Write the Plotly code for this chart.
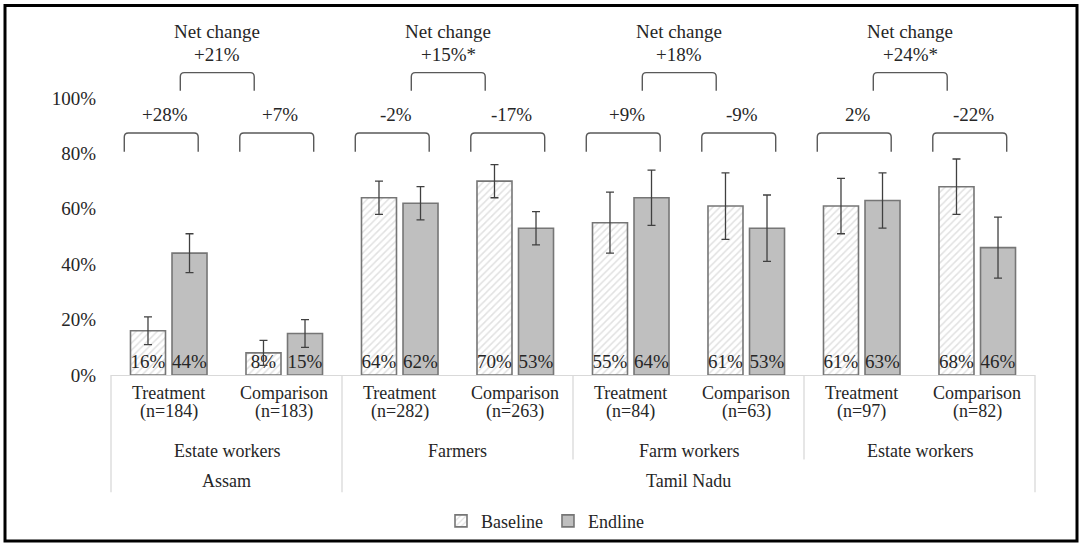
import plotly.graph_objects as go

# ---- data -------------------------------------------------------------
regions = ["Assam", "Tamil Nadu"]
region_span = [(0, 1), (2, 7)]
groups = ["Estate workers", "Farmers", "Farm workers", "Estate workers"]
arms = ["Treatment", "Comparison", "Treatment", "Comparison",
        "Treatment", "Comparison", "Treatment", "Comparison"]
sizes = ["(n=184)", "(n=183)", "(n=282)", "(n=263)",
         "(n=84)", "(n=63)", "(n=97)", "(n=82)"]

baseline = [16, 8, 64, 70, 55, 61, 61, 68]
endline = [44, 15, 62, 53, 64, 53, 63, 46]
baseline_ci = [5, 4.5, 6, 6, 11, 12, 10, 10]
endline_ci = [7, 5, 6, 6, 10, 12, 10, 11]

arm_change = ["+28%", "+7%", "-2%", "-17%", "+9%", "-9%", "2%", "-22%"]
net_change = ["+21%", "+15%*", "+18%", "+24%*"]

y_ticks = [0, 20, 40, 60, 80, 100]
y_tick_text = ["0%", "20%", "40%", "60%", "80%", "100%"]

# ---- layout constants -------------------------------------------------
W, H = 1082, 549
ML, MR, MT, MB = 111, 47, 10, 172
PW, PH = W - ML - MR, H - MT - MB
FONT = "Liberation Serif"
TXT = "#262626"
GRID = "#d9d9d9"
BRACKET = "#595959"
BIG, SMALL = 19, 18


def paper_x(px):
    return (px - ML) / PW


def paper_y(py):
    return (H - MB - py) / PH


def font(size=BIG):
    return dict(family=FONT, size=size, color=TXT)


x = list(range(len(arms)))

fig = go.Figure()
fig.add_trace(go.Bar(
    name="Baseline", x=x, y=baseline,
    marker=dict(color="white", line=dict(color="#767676", width=1.6),
                pattern=dict(shape="/", fgcolor="#c4c4c4", bgcolor="white",
                             size=5, solidity=0.3)),
    error_y=dict(type="data", array=baseline_ci, color="#404040",
                 thickness=1.3, width=4),
    text=[f"{v}%" for v in baseline], textposition="inside",
    insidetextanchor="start", constraintext="none", textangle=0,
    textfont=font(),
))
fig.add_trace(go.Bar(
    name="Endline", x=x, y=endline,
    marker=dict(color="#bfbfbf", line=dict(color="#767676", width=1.6)),
    error_y=dict(type="data", array=endline_ci, color="#404040",
                 thickness=1.3, width=4),
    text=[f"{v}%" for v in endline], textposition="inside",
    insidetextanchor="start", constraintext="none", textangle=0,
    textfont=font(),
))

shapes = []
annotations = []


def bracket(x0, x1, y_leg, y_top, rx=0.035, ry=1.5):
    path = (f"M {x0},{y_leg} L {x0},{y_top - ry} Q {x0},{y_top} {x0 + rx},{y_top} "
            f"L {x1 - rx},{y_top} Q {x1},{y_top} {x1},{y_top - ry} L {x1},{y_leg}")
    return dict(type="path", xref="x", yref="y", path=path,
                line=dict(color=BRACKET, width=1.4))


# change within each arm
for i, lab in enumerate(arm_change):
    x0, x1 = i - 0.385, i + 0.255
    shapes.append(bracket(x0, x1, 80.6, 87.4))
    annotations.append(dict(x=(x0 + x1) / 2 + 0.03, y=93.9, xref="x", yref="y",
                            text=lab, showarrow=False, font=font()))

# net change per population group
for g, lab in enumerate(net_change):
    c = 2 * g + 0.5 - 0.08
    shapes.append(bracket(c - 0.32, c + 0.32, 102.6, 109.2))
    annotations.append(dict(x=c, y=124.0, xref="x", yref="y",
                            text="Net change", showarrow=False, font=font()))
    annotations.append(dict(x=c, y=115.6, xref="x", yref="y",
                            text=lab, showarrow=False, font=font()))

# three-level category axis labels
for i in x:
    annotations.append(dict(x=i, y=0, xref="x", yref="paper", yshift=-17.5,
                            yanchor="middle", text=arms[i], showarrow=False,
                            font=font(SMALL)))
    annotations.append(dict(x=i, y=0, xref="x", yref="paper", yshift=-36.5,
                            yanchor="middle", text=sizes[i], showarrow=False,
                            font=font(SMALL)))
for g, lab in enumerate(groups):
    annotations.append(dict(x=2 * g + 0.5, y=0, xref="x", yref="paper",
                            yshift=-75.5, yanchor="middle", text=lab,
                            showarrow=False, font=font(SMALL)))
for lab, (a, b) in zip(regions, region_span):
    annotations.append(dict(x=(a + b) / 2, y=0, xref="x", yref="paper",
                            yshift=-105.5, yanchor="middle", text=lab,
                            showarrow=False, font=font(SMALL)))

# separators between category groups
full_y = paper_y(495)
mid_y = paper_y(462)
for xr, xv, yb in [("paper", 0, full_y), ("x", 1.5, full_y), ("x", 3.5, mid_y),
                   ("x", 5.5, mid_y), ("paper", 1, full_y)]:
    shapes.append(dict(type="line", xref=xr, yref="paper", x0=xv, x1=xv,
                       y0=0, y1=yb, line=dict(color=GRID, width=1.3)))

# outer frame
shapes.append(dict(type="rect", xref="paper", yref="paper",
                   x0=paper_x(5), x1=paper_x(1077), y0=paper_y(544), y1=paper_y(5.5),
                   line=dict(color="black", width=3)))

fig.update_layout(
    width=W, height=H,
    margin=dict(l=ML, r=MR, t=MT, b=MB),
    paper_bgcolor="white", plot_bgcolor="white",
    barmode="group", bargap=0.281, bargroupgap=0.157,
    font=font(),
    xaxis=dict(range=[-0.5, 7.5], showticklabels=False, ticks="",
               showgrid=False, zeroline=False, showline=True,
               linecolor=GRID, linewidth=1.3, fixedrange=True),
    yaxis=dict(range=[0, 131.8], tickmode="array", tickvals=y_ticks,
               ticktext=y_tick_text,
               showgrid=False, zeroline=False, showline=False, ticks="",
               ticklabelstandoff=14, tickfont=font(), fixedrange=True),
    legend=dict(orientation="h", x=paper_x(545), xanchor="center",
                y=paper_y(524), yanchor="middle", font=font(SMALL),
                itemwidth=30, bgcolor="rgba(0,0,0,0)"),
    shapes=shapes,
    annotations=annotations,
)

fig.write_html("out.html")
